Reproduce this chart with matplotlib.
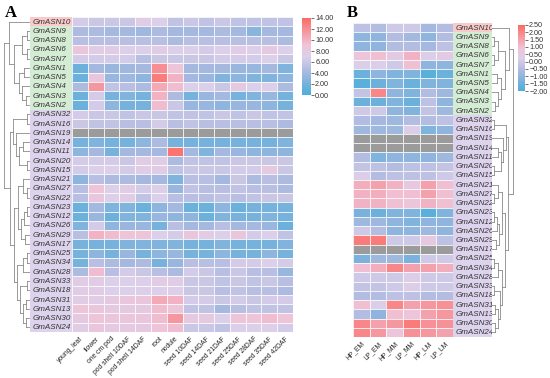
import numpy as np
import matplotlib
matplotlib.use("Agg")
import matplotlib.pyplot as plt
from matplotlib.colors import LinearSegmentedColormap
from matplotlib.cm import ScalarMappable
from matplotlib.colors import Normalize
from matplotlib.ticker import FuncFormatter

plt.rcParams['font.family'] = ['Liberation Sans', 'DejaVu Sans']

GENES = ['GmASN10', 'GmASN9', 'GmASN8', 'GmASN6', 'GmASN7', 'GmASN1', 'GmASN5',
         'GmASN4', 'GmASN3', 'GmASN2', 'GmASN32', 'GmASN16', 'GmASN19', 'GmASN14',
         'GmASN11', 'GmASN20', 'GmASN15', 'GmASN21', 'GmASN27', 'GmASN22', 'GmASN23',
         'GmASN12', 'GmASN26', 'GmASN29', 'GmASN17', 'GmASN25', 'GmASN34', 'GmASN28',
         'GmASN33', 'GmASN18', 'GmASN31', 'GmASN13', 'GmASN30', 'GmASN24']
GROUPS = ['a'] + ['b'] * 9 + ['c'] * 24

TISSUES = ['young_leaf', 'flower', 'one cm pod', 'pod shell 10DAF', 'pod shell 14DAF',
           'root', 'nodule', 'seed 10DAF', 'seed 14DAF', 'seed 21DAF', 'seed 25DAF',
           'seed 28DAF', 'seed 35DAF', 'seed 42DAF']
TREATMENTS = ['HP_EM', 'LP_EM', 'HP_MM', 'LP_MM', 'HP_LM', 'LP_LM']

nan = np.nan
EXPR_A = [
    [6.5, 6, 6, 6, 7.5, 7, 5.5, 6, 5.5, 6, 5.5, 5.5, 5.5, 5.5],
    [4.5, 4.5, 4, 4, 3.8, 4.5, 4, 4, 4, 4.5, 4, 2.8, 4, 4],
    [5, 5, 5, 5, 5, 5, 4.5, 5, 5, 5, 5, 5, 5, 4.5],
    [8.5, 7.5, 7.5, 7, 7, 7.5, 7, 7, 6.5, 7, 7.5, 7, 8, 7],
    [6.5, 6.5, 6.5, 6.5, 5, 6, 6, 6, 6, 6.5, 6.5, 6.5, 7, 6],
    [1.5, 4, 3.5, 3.8, 4, 12, 9, 4, 4, 4, 3.5, 3.5, 4, 2.5],
    [1.5, 8.5, 3.5, 3.8, 3, 13, 10, 4, 3.5, 2.5, 3, 2.5, 2.5, 3],
    [4.5, 11.5, 5.5, 5, 4.5, 10.5, 9.5, 7, 7, 6, 8, 7, 7, 4.5],
    [1.5, 6.5, 2, 2.5, 2, 10, 4.5, 2, 3.5, 4, 2, 2.5, 3.5, 2],
    [1.5, 6.5, 3, 2, 2, 9.5, 6, 3.5, 3.5, 3, 3.5, 3.5, 3, 2],
    [6.5, 6, 6, 5.5, 6, 6, 5.5, 5.5, 5.5, 6, 5.5, 6, 5.5, 5.5],
    [6, 5.5, 5.5, 5, 5, 6.5, 5, 5.5, 5, 5, 5, 5, 5, 4.5],
    [nan] * 14,
    [2, 2.5, 2, 2, 3, 4.5, 2, 2, 2, 2, 2, 2, 2, 2.5],
    [3, 4, 2, 4, 4, 4, 13.5, 4, 2.5, 4, 3.5, 3, 3, 3],
    [6.5, 6.5, 6.5, 6, 7.5, 7.5, 4.5, 5.5, 5.5, 5.5, 6, 6, 6, 6],
    [6.5, 7, 7, 6.5, 7.5, 7.5, 5.5, 6, 6, 6, 6.5, 6.5, 8, 6],
    [3, 5, 4.5, 4.5, 4, 4, 2.5, 5, 5, 4, 6, 4.5, 5, 4.5],
    [5, 9, 7, 7.5, 6.5, 7, 3.5, 5.5, 5, 5, 5.5, 5, 5, 4.5],
    [5, 8.5, 7, 7.5, 5.5, 7, 5, 5, 5, 5.5, 5, 5.5, 6, 6],
    [1.5, 4, 2.5, 2.5, 1.5, 3, 4, 1.5, 1.5, 3, 1.5, 2, 2, 2],
    [1.5, 3.5, 1.5, 2.5, 2.5, 3.5, 3, 3, 1.5, 2.5, 2, 2, 2.5, 2],
    [2.5, 6.5, 3, 3.5, 3.5, 2, 5, 4, 4, 5, 4, 4, 3.5, 1.5],
    [5, 10, 9.5, 9, 9, 7, 6.5, 8.5, 7.5, 7, 8.5, 6.5, 7, 5.5],
    [2, 2, 2, 2.5, 2.5, 2.5, 2.5, 2, 2, 2.5, 2, 2, 2, 2.5],
    [2, 3, 2, 3.5, 2, 3, 3.5, 2, 2, 3, 2, 2, 3, 2],
    [2, 5, 4.5, 4, 4.5, 2, 3.5, 5, 5, 5, 6.5, 6.5, 7, 6.5],
    [4.5, 9.5, 5, 6.5, 6, 5, 4.5, 6.5, 6, 5, 6, 5, 5, 3.5],
    [7.5, 7.5, 7, 7, 7, 7.5, 7.5, 6, 6, 5.5, 6, 5.5, 6, 5],
    [7.5, 7.5, 7, 7, 7, 7, 7, 6, 6, 5, 5.5, 5, 5, 4.5],
    [7.5, 7.5, 8, 8.5, 8.5, 10.5, 10, 6.5, 6.5, 6, 6.5, 6, 6.5, 6.5],
    [9, 8.5, 8, 8, 8, 9.5, 9, 5.5, 5.5, 4, 5, 5.5, 5.5, 5.5],
    [8, 9, 8.5, 8.5, 8.5, 9.5, 11.5, 8, 8, 7, 9, 9, 9.5, 9],
    [7.5, 8.5, 8, 8, 8, 9, 9.5, 6, 6, 5.5, 7, 7, 7, 6.5],
]

EXPR_B = [
    [-0.3, -0.5, 0, 0, -0.7, -0.5],
    [-1, -1, -0.5, -0.7, -1, -0.5],
    [-1, -1, -0.5, -0.5, -0.7, -0.3],
    [0.8, 1.0, 0.5, 1.2, 0.3, 0.5],
    [0.2, 0.2, 0, 1.0, -1, -1],
    [-1.5, -1.0, -1.2, -1.2, -1.8, -1.5],
    [-1.8, -1.5, -1.2, -1.5, -1.2, -1.2],
    [-0.2, 2.0, -1.0, -1.2, -0.5, -0.8],
    [-1.5, -1.5, -1.2, -1.5, -0.3, -1.0],
    [0, 0, -1.0, -1.2, -0.2, -0.8],
    [-0.5, -0.7, -0.8, -0.5, -0.5, -0.3],
    [-0.8, -0.8, -0.8, 0.3, -1.2, -1.0],
    [nan] * 6,
    [nan] * 6,
    [-0.5, -1.2, -1, -1, -1, -0.8],
    [-0.2, -0.3, -0.5, -0.3, -0.3, -0.2],
    [0.2, -0.5, -0.3, -0.3, -0.3, 0],
    [1.3, 1.5, 1.2, 0.6, 1.5, 1.0],
    [1.2, 1.3, 1.0, 1.0, 1.5, 1.0],
    [1.2, 1.2, 1.0, 0.8, 1.2, 1.0],
    [-1.3, -1.5, -1.2, -1.2, -1.8, -1.2],
    [-0.8, -0.8, -1, -1.2, -1, -1],
    [0, -0.5, -1, -1, -0.8, -1],
    [2.2, 2.2, 0, 0, 0.6, -0.3],
    [nan] * 6,
    [-1.3, -0.8, -0.8, -1.3, 0, 0],
    [1.0, 1.3, 2.0, 1.5, 1.5, 1.3],
    [0, 0, 0, 0.3, 0, 0],
    [-0.2, -0.2, 0, 0.3, 0, 0],
    [-0.5, -0.5, -0.3, -0.3, -0.5, -0.5],
    [1.0, 0.2, 2.0, 1.5, 1.7, 1.8],
    [-0.5, -1, 1.0, 0.8, 1.5, 1.7],
    [2.0, 1.5, 1.7, 2.2, 1.8, 1.8],
    [2.0, 1.7, 0.8, 1.8, 1.7, 1.5],
]

# clustering tree: (merge height, left, right)
TREE = (26,
        (21, 'GmASN10',
         (16, (8, (3, 'GmASN9', 'GmASN8'), (3, 'GmASN6', 'GmASN7')),
          (11, (6, 'GmASN1', 'GmASN5'), (8, 'GmASN4', (4, 'GmASN3', 'GmASN2'))))),
        (20,
         (17, (3, 'GmASN32', 'GmASN16'),
          (14, 'GmASN19', (11, (7, 'GmASN14', 'GmASN11'), (3, 'GmASN20', 'GmASN15')))),
         (16,
          (12, (7, 'GmASN21', (3, 'GmASN27', 'GmASN22')),
           (9, (6, (3, 'GmASN23', 'GmASN12'), 'GmASN26'), (5, 'GmASN29', 'GmASN17'))),
          (13, (7, (3, 'GmASN25', 'GmASN34'), 'GmASN28'),
           (10, (3, 'GmASN33', 'GmASN18'),
            (7, (4, 'GmASN31', 'GmASN13'), (4, 'GmASN30', 'GmASN24')))))))

LABEL_COLORS = {'a': '#f9caca', 'b': '#d5ecd4', 'c': '#ddd3ec'}

W, H = 550, 378
cmap = LinearSegmentedColormap.from_list(
    'expr', [(0.0, '#4eaedb'), (0.12, '#6fb1dc'), (0.3, '#a9b9df'),
             (0.5, '#dccfe9'), (0.65, '#efc3d8'), (1.0, '#fb6b64')])
cmap.set_bad('#9b9b9b')

fig = plt.figure(figsize=(W / 100, H / 100), dpi=100)


def px_axes(x0, y0, x1, y1):
    return fig.add_axes([x0 / W, 1 - y1 / H, (x1 - x0) / W, (y1 - y0) / H])


def clean(ax):
    for s in ax.spines.values():
        s.set_visible(False)
    ax.set_xticks([])
    ax.set_yticks([])


def heatmap(ax, data, vmin, vmax, cols):
    arr = np.ma.masked_invalid(np.array(data, dtype=float))
    ax.pcolormesh(arr, cmap=cmap, vmin=vmin, vmax=vmax,
                  edgecolors=(1, 1, 1, 0.8), linewidth=0.6)
    ax.set_ylim(len(GENES), 0)
    ax.set_xlim(0, len(cols))
    clean(ax)
    ax.set_xticks(np.arange(len(cols)) + 0.5)
    ax.set_xticklabels(cols, rotation=45, ha='right', va='top',
                       rotation_mode='anchor', fontsize=4.9, color='#222222')
    ax.tick_params(length=0, pad=2.5)


def labels(ax):
    ax.barh(np.arange(len(GENES)) + 0.5, 1, height=1,
            color=[LABEL_COLORS[g] for g in GROUPS])
    for i, g in enumerate(GENES):
        ax.text(0.07, i + 0.55, g, fontsize=5.8, style='italic',
                color='#333333', va='center', ha='left')
    ax.set_xlim(0, 1)
    ax.set_ylim(len(GENES), 0)
    clean(ax)


def draw_tree(ax, node, scale):
    if isinstance(node, str):
        return GENES.index(node) + 0.5, 0
    d, a, b = node
    d = d * scale
    ya, da = draw_tree(ax, a, scale)
    yb, db = draw_tree(ax, b, scale)
    kw = dict(color='#8a8a8a', lw=0.6)
    ax.plot([da, d], [ya, ya], **kw)
    ax.plot([db, d], [yb, yb], **kw)
    ax.plot([d, d], [ya, yb], **kw)
    return (ya + yb) / 2, d


def colorbar(cax, vmin, vmax, ticks):
    sm = ScalarMappable(norm=Normalize(vmin, vmax), cmap=cmap)
    cb = fig.colorbar(sm, cax=cax, ticks=ticks)
    cb.outline.set_visible(False)
    cb.ax.yaxis.set_major_formatter(FuncFormatter(lambda v, p: f"{v:.2f}".replace('-', '\u2212')))
    cb.ax.tick_params(labelsize=5.2, length=2, width=0.5, pad=1, colors='#333333')
    cb.ax.axvline(1, color='#555555', lw=0.6)


# panel A
ax_a = px_axes(72, 17, 293, 332)
heatmap(ax_a, EXPR_A, 0, 14, TISSUES)
labels(px_axes(30, 17, 72, 332))
dend_a = px_axes(0, 17, 30, 332)
draw_tree(dend_a, TREE, 1.0)
dend_a.set_xlim(30, 0)
dend_a.set_ylim(len(GENES), 0)
clean(dend_a)
colorbar(px_axes(302, 18, 311, 95), 0, 14, np.arange(0, 15, 2))

# panel B
ax_b = px_axes(353, 23, 453, 337)
heatmap(ax_b, EXPR_B, -2, 2.5, TREATMENTS)
labels(px_axes(453, 23, 492, 337))
dend_b = px_axes(492, 23, 520, 337)
draw_tree(dend_b, TREE, 0.8)
dend_b.set_xlim(0, 28)
dend_b.set_ylim(len(GENES), 0)
clean(dend_b)
colorbar(px_axes(518, 25, 525, 91), -2, 2.5, np.arange(-2, 2.51, 0.5))

fig.text(5 / W, 1 - 17 / H, 'A', fontsize=12, fontweight='bold', family='Liberation Serif')
fig.text(347 / W, 1 - 17 / H, 'B', fontsize=12, fontweight='bold', family='Liberation Serif')

fig.savefig('out.png', dpi=100)
